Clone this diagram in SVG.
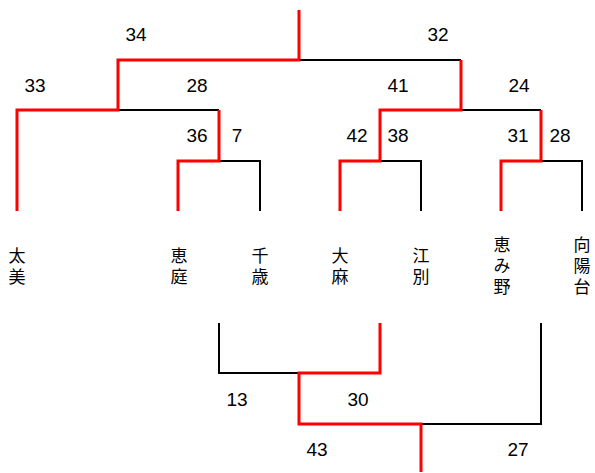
<svg xmlns="http://www.w3.org/2000/svg" width="595" height="473" viewBox="0 0 595 473">
<style>
.b{fill:none;stroke:#000;stroke-width:2}
.r{fill:none;stroke:#f00;stroke-width:3}
.n{font-family:"Liberation Sans",Arial,sans-serif;font-size:19px;fill:#000;text-anchor:middle}
.t{font-family:"Noto Sans CJK JP","Noto Sans CJK SC",sans-serif;font-size:17px;fill:#000;text-anchor:middle;writing-mode:vertical-rl;letter-spacing:4px}
</style>
<rect width="595" height="473" fill="#fff"/>
<g id="connectors">
<path class="b" d="M299 60H461M118 110H219M219 161H260V211M380 161H421V211M461 110H541M541 161H582V211"/>
<path class="b" d="M219 323V373H299M421 424H541V323"/>
<path class="r" d="M299 10V60H118V110H17V211"/>
<path class="r" d="M219 110V161H178V211"/>
<path class="r" d="M461 60V110H380V161H340V211"/>
<path class="r" d="M541 110V161H501V211"/>
<path class="r" d="M380 323V373H299V424H421V472"/>
</g>
<g id="scores">
<text class="n" x="136" y="41">34</text>
<text class="n" x="438" y="41">32</text>
<text class="n" x="35" y="92">33</text>
<text class="n" x="197" y="92">28</text>
<text class="n" x="398" y="92">41</text>
<text class="n" x="519" y="92">24</text>
<text class="n" x="197" y="142">36</text>
<text class="n" x="237" y="142">7</text>
<text class="n" x="357" y="142">42</text>
<text class="n" x="398" y="142">38</text>
<text class="n" x="518" y="142">31</text>
<text class="n" x="560" y="142">28</text>
<text class="n" x="237" y="406">13</text>
<text class="n" x="358" y="406">30</text>
<text class="n" x="317" y="456">43</text>
<text class="n" x="518" y="456">27</text>
</g>
<g id="team-futomi"><text class="t" x="17" y="268">太美</text></g>
<g id="team-eniwa"><text class="t" x="179" y="268">恵庭</text></g>
<g id="team-chitose"><text class="t" x="260" y="268">千歳</text></g>
<g id="team-ooasa"><text class="t" x="340" y="268">大麻</text></g>
<g id="team-ebetsu"><text class="t" x="421" y="268">江別</text></g>
<g id="team-megumino"><text class="t" x="502" y="268">恵み野</text></g>
<g id="team-kouyoudai"><text class="t" x="582" y="268">向陽台</text></g>
</svg>
